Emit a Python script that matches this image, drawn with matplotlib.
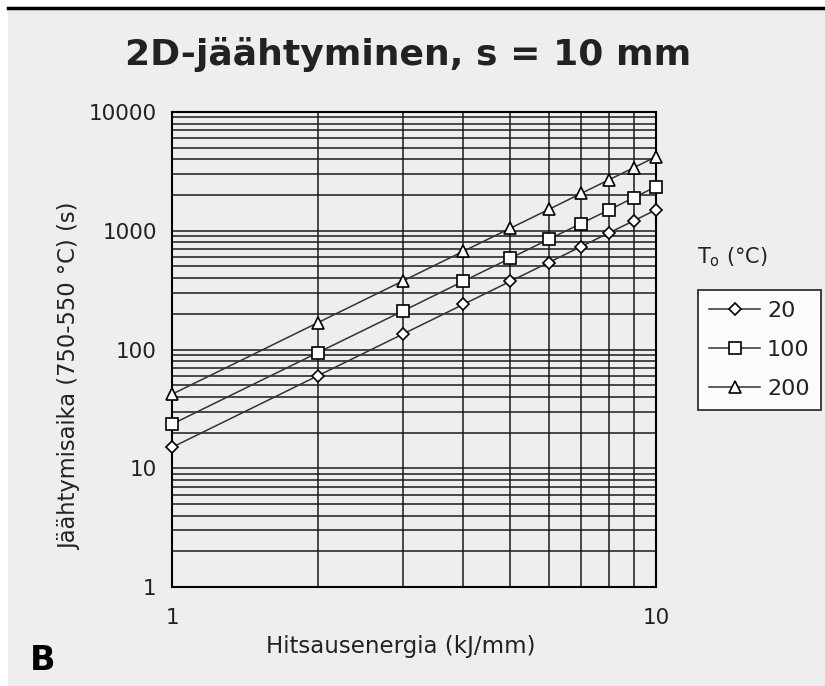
import matplotlib.pyplot as plt
from matplotlib.lines import Line2D
from matplotlib.patches import Rectangle
from matplotlib.ticker import NullFormatter

# Hitsausenergia (kJ/mm)
energia = [1, 2, 3, 4, 5, 6, 7, 8, 9, 10]

# Jäähtymisaika t8/5 (s) eri esilämmityslämpötiloilla
t_20 = [15, 60, 135, 240, 375, 540, 735, 960, 1215, 1500]
t_100 = [23.5, 94, 211, 376, 587, 846, 1150, 1500, 1900, 2350]
t_200 = [42, 168, 378, 672, 1050, 1510, 2060, 2690, 3400, 4200]

sarjat = [("20", t_20, "D", 6), ("100", t_100, "s", 9), ("200", t_200, "^", 9)]

fig = plt.figure(figsize=(8.25, 6.86), dpi=100)
fig.patch.set_facecolor("white")

# harmaa tausta ja yläreunan viiva
fig.add_artist(Rectangle((8 / 825, 0), 1, 1 - 10 / 686, transform=fig.transFigure,
                         facecolor="#eeeeee", edgecolor="none", zorder=-10))
fig.add_artist(Line2D([8 / 825, 1], [1 - 8 / 686, 1 - 8 / 686], transform=fig.transFigure,
                      color="black", lw=2.5))

ax = fig.add_axes([172 / 825, 1 - 587 / 686, 484 / 825, 475 / 686])
ax.set_zorder(1)
ax.set_facecolor("#eeeeee")
ax.set_xscale("log")
ax.set_yscale("log")
ax.set_xlim(1, 10)
ax.set_ylim(1, 10000)

ax.grid(True, which="both", color="#1a1a1a", lw=1.1)
ax.set_axisbelow(True)

for nimi, arvot, merkki, koko in sarjat:
    ax.plot(energia, arvot, color="#333333", lw=1.1, marker=merkki, markersize=koko,
            markerfacecolor="white", markeredgecolor="black", markeredgewidth=1.2,
            label=nimi, zorder=3, clip_on=False)

ax.set_xticks([1, 10])
ax.set_xticklabels(["1", "10"])
ax.set_yticks([1, 10, 100, 1000, 10000])
ax.set_yticklabels(["1", "10", "100", "1000", "10000"])
ax.minorticks_on()
ax.xaxis.set_minor_formatter(NullFormatter())
ax.yaxis.set_minor_formatter(NullFormatter())
ax.tick_params(which="both", length=0)
ax.tick_params(axis="x", pad=15, labelsize=15.5, colors="#222222")
ax.tick_params(axis="y", pad=11, labelsize=15.5, colors="#222222")
for s in ax.spines.values():
    s.set_linewidth(1.5)
    s.set_color("black")

ax.set_xlabel("Hitsausenergia (kJ/mm)", fontsize=16.5, color="#222222")
ax.set_ylabel("Jäähtymisaika (750-550 °C) (s)", fontsize=16.3, color="#222222")
ax.xaxis.set_label_coords(0.473, -0.126)
ax.yaxis.set_label_coords(-0.212, 0.444)
ax.xaxis.label.set_va("center")
ax.yaxis.label.set_va("center")

fig.text(0.495, 1 - 55 / 686, "2D-jäähtyminen, s = 10 mm", ha="center", va="center",
         fontsize=26, fontweight="bold", color="#222222")
fig.text(30 / 825, 1 - 660 / 686, "B", ha="left", va="center",
         fontsize=24, fontweight="bold", color="black")

fig.text(697 / 825, 1 - 257 / 686, "T$_\\mathrm{o}$ (°C)", ha="left", va="center",
         fontsize=15, color="#222222")
leg = ax.legend(loc="upper left", bbox_to_anchor=(698 / 825, 1 - 290 / 686),
                bbox_transform=fig.transFigure, frameon=True, fancybox=False,
                fontsize=16, handlelength=2.3, borderpad=0.5, labelspacing=0.85,
                handletextpad=0.3, borderaxespad=0)
leg.get_frame().set_edgecolor("black")
leg.get_frame().set_linewidth(1.3)
leg.get_frame().set_facecolor("white")
for t in leg.get_texts():
    t.set_color("#222222")

fig.savefig("out.png", dpi=100, facecolor=fig.get_facecolor())
